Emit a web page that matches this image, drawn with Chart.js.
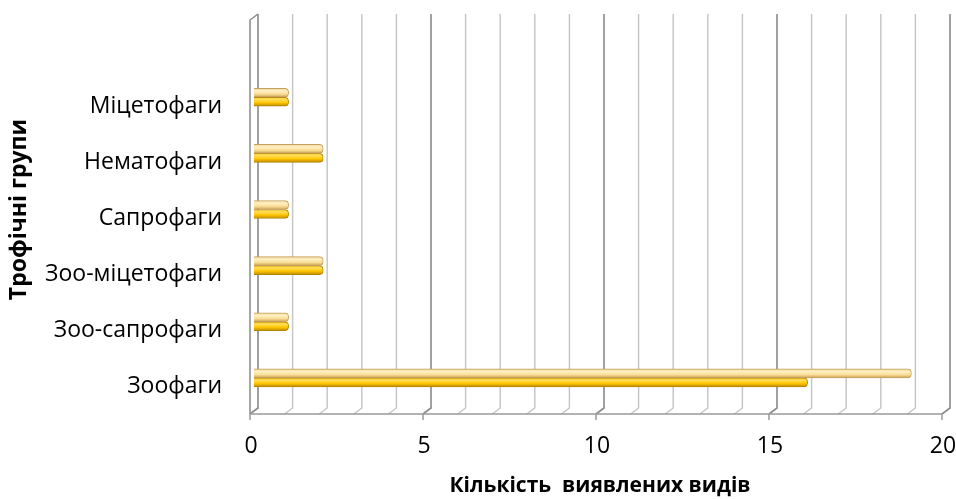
<!DOCTYPE html>
<html>
<head>
<meta charset="utf-8">
<script src="https://cdn.jsdelivr.net/npm/chart.js@4/dist/chart.umd.min.js"></script>
<style>
  html, body { margin: 0; padding: 0; background: #ffffff; }
  #wrap { width: 956px; height: 499px; }
</style>
</head>
<body>
<div id="wrap"><canvas id="chart" width="956" height="499"></canvas></div>
<script>
// Trophic groups, listed from top to bottom (the first slot stays empty)
const categories = ['', 'Міцетофаги', 'Нематофаги', 'Сапрофаги', 'Зоо-міцетофаги', 'Зоо-сапрофаги', 'Зоофаги'];
// Number of detected species, two series per group
const seriesLight = [null, 1, 2, 1, 2, 1, 19];
const seriesGold  = [null, 1, 2, 1, 2, 1, 16];
// Axis labels
const xTicks = [0, 5, 10, 15, 20];
const xTitle = 'Кількість  виявлених видів';
const yTitle = 'Трофічні групи';

const BAR = 9;        // bar thickness
const DX = 4;         // half depth of the 3D box, horizontal
const FLOOR_BACK = 408, FLOOR_FRONT = 414, WALL_TOP = 14;

Chart.defaults.font.family = "'Open Sans', 'DejaVu Sans', sans-serif";
Chart.defaults.color = '#000000';

// cylinder-like vertical shading for each bar
function cylinder(stops) {
  return (c) => {
    const chart = c.chart;
    const ys = chart.scales && chart.scales.y;
    if (!ys || ys.top === undefined) return stops[1][1];
    const center = ys.getPixelForValue(c.dataIndex);
    const top = c.datasetIndex === 0 ? center - BAR : center;
    const g = chart.ctx.createLinearGradient(0, top, 0, top + BAR);
    stops.forEach(s => g.addColorStop(s[0], s[1]));
    return g;
  };
}

// back wall, floor and side wall of the 3D frame
const frame3d = {
  id: 'frame3d',
  beforeDatasetsDraw(chart) {
    const ctx = chart.ctx, xs = chart.scales.x;
    ctx.save();
    ctx.lineCap = 'butt';
    for (let v = 0; v <= 20; v++) {
      const px = xs.getPixelForValue(v);
      const major = v % 5 === 0;
      ctx.strokeStyle = major ? '#8a8a8a' : '#c4c4c4';
      ctx.lineWidth = major ? 1.6 : 1.4;
      ctx.beginPath();
      ctx.moveTo(px + DX, WALL_TOP);
      ctx.lineTo(px + DX, FLOOR_BACK);
      ctx.lineTo(px - DX, FLOOR_FRONT);
      ctx.stroke();
    }
    const x0 = xs.getPixelForValue(0), x20 = xs.getPixelForValue(20);
    ctx.strokeStyle = '#8a8a8a';
    ctx.lineWidth = 1.5;
    // side wall
    ctx.beginPath();
    ctx.moveTo(x0 + DX, WALL_TOP);
    ctx.lineTo(x0 - DX, WALL_TOP + 6);
    ctx.lineTo(x0 - DX, FLOOR_FRONT);
    ctx.stroke();
    // floor front edge
    ctx.strokeStyle = '#9a9a9a';
    ctx.beginPath();
    ctx.moveTo(x0 - DX, FLOOR_FRONT);
    ctx.lineTo(x20 - DX, FLOOR_FRONT);
    ctx.stroke();
    // major tick marks
    xTicks.forEach(v => {
      const px = xs.getPixelForValue(v) - DX;
      ctx.beginPath();
      ctx.moveTo(px, FLOOR_FRONT);
      ctx.lineTo(px, FLOOR_FRONT + 6);
      ctx.stroke();
    });
    ctx.restore();
  }
};

new Chart(document.getElementById('chart'), {
  type: 'bar',
  data: {
    labels: categories,
    datasets: [
      {
        data: seriesLight,
        barThickness: BAR,
        backgroundColor: cylinder([[0, '#f0d490'], [0.3, '#fff0c4'], [0.65, '#f9dd98'], [1, '#c99f50']]),
        borderColor: '#c4a060',
        borderWidth: 1,
        borderRadius: 4,
        borderSkipped: 'start'
      },
      {
        data: seriesGold,
        barThickness: BAR,
        backgroundColor: cylinder([[0, '#ffd23a'], [0.3, '#ffdc55'], [0.6, '#ffc600'], [1, '#c08a00']]),
        borderColor: '#b08600',
        borderWidth: 1,
        borderRadius: 4,
        borderSkipped: 'start'
      }
    ]
  },
  options: {
    indexAxis: 'y',
    responsive: false,
    devicePixelRatio: 1,
    animation: false,
    layout: { padding: { top: 13, right: 10, left: 0, bottom: 0 } },
    plugins: { legend: { display: false }, tooltip: { enabled: false } },
    scales: {
      x: {
        type: 'linear',
        min: 0,
        max: 20,
        afterFit: (s) => { s.height = 93; s.paddingLeft = 0; s.paddingRight = 0; },
        afterBuildTicks: (s) => { s.ticks = xTicks.map(v => ({ value: v })); },
        ticks: { font: { size: 23 }, padding: 27, labelOffset: -3, color: '#000' },
        grid: { display: false, drawTicks: false },
        border: { display: false },
        title: { display: true, text: xTitle, font: { size: 21, weight: 'bold' }, padding: { top: 0, bottom: 0 }, color: '#000' }
      },
      y: {
        type: 'category',
        afterFit: (s) => { s.width = 254; s.paddingTop = 0; s.paddingBottom = 0; },
        ticks: { font: { size: 23 }, padding: 32, labelOffset: 9, color: '#000' },
        grid: { display: false, drawTicks: false },
        border: { display: false },
        title: { display: true, text: yTitle, font: { size: 23, weight: 'bold' }, padding: { top: 6, bottom: 0 }, color: '#000' }
      }
    }
  },
  plugins: [frame3d]
});
</script>
</body>
</html>
